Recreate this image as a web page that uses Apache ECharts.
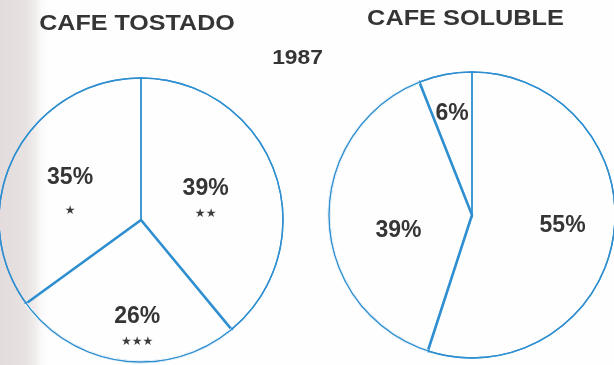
<!DOCTYPE html>
<html>
<head>
<meta charset="utf-8">
<script src="https://cdn.jsdelivr.net/npm/echarts@6/dist/echarts.min.js"></script>
<style>
  html, body { margin: 0; padding: 0; }
  body {
    width: 614px; height: 365px; overflow: hidden;
    background: linear-gradient(to right, #e3dbdc 0px, #e8e2e2 26px, #f1eded 35px, #fbfafa 42px, #fefefe 48px);
  }
  #chart { width: 614px; height: 365px; }
</style>
</head>
<body>
<div id="chart"></div>
<script>
// Market shares, 1987
const year = '1987';
const tostadoTitle = 'CAFE TOSTADO';
const tostadoShares = [39, 26, 35];
const tostadoMarks = ['★★', '★★★', '★'];
const solubleTitle = 'CAFE SOLUBLE';
const solubleShares = [55, 39, 6];

const LINE = '#2f8fd0';
const INK = '#353535';

// Per-slice label nudges and which slice carries the heavy dividing strokes
const tostadoOffsets = [[-5, 6], [5.5, 35], [-5, 11]];
const tostadoStarGap = [24, 24, 40];
const tostadoHeavy = 1;
const solubleOffsets = [[17, -0.5], [1, 13.5], [-6, -28]];
const solubleHeavy = 1;

function pieLayers(center, r, shares, heavy, labelFor) {
  const base = {
    type: 'pie', center: center, startAngle: 90, clockwise: true,
    silent: true, animation: false, avoidLabelOverlap: false,
    emphasis: { disabled: true }, labelLine: { show: false }
  };
  return [
    // slices with dividing strokes
    Object.assign({}, base, {
      radius: [0, r], z: 2,
      data: shares.map((v, i) => ({
        value: v,
        itemStyle: {
          color: 'transparent', borderColor: LINE,
          borderWidth: i === heavy ? 2.6 : 1.4, borderJoin: 'miter'
        },
        label: labelFor(v, i)
      }))
    }),
    // mask the heavy slice's rim so the outline stays thin
    Object.assign({}, base, {
      radius: [r - 1.5, r + 1.6], z: 3,
      label: { show: false },
      data: shares.map((v, i) => ({
        value: v,
        itemStyle: { color: i === heavy ? '#fefefe' : 'transparent', borderWidth: 0 }
      }))
    }),
    // outer circle
    Object.assign({}, base, {
      radius: [0, r], z: 4,
      label: { show: false },
      data: [{ value: 1, itemStyle: { color: 'transparent', borderColor: LINE, borderWidth: 1.4 } }]
    })
  ];
}

const tostado = pieLayers([141, 220], 142, tostadoShares, tostadoHeavy, (v, i) => ({
  show: true, position: 'inside', offset: tostadoOffsets[i],
  formatter: '{p|' + v + '%}\n{s|' + tostadoMarks[i] + '}',
  rich: {
    p: { fontFamily: 'Liberation Sans', fontWeight: 'bold', fontSize: 23, color: INK, lineHeight: 26, align: 'center' },
    s: { fontFamily: 'DejaVu Sans', fontSize: 12, color: '#3c3c3c', lineHeight: tostadoStarGap[i], align: 'center' }
  }
}));

const soluble = pieLayers([472, 215], 143, solubleShares, solubleHeavy, (v, i) => ({
  show: true, position: 'inside', offset: solubleOffsets[i],
  formatter: v + '%',
  fontFamily: 'Liberation Sans', fontWeight: 'bold', fontSize: 23, color: INK
}));

function heading(text, x, y, size, sx) {
  return {
    type: 'text', x: x, y: y, scaleX: sx, z: 10, silent: true,
    style: {
      text: text, fill: INK, align: 'center', verticalAlign: 'middle',
      font: 'bold ' + size + 'px "Liberation Sans", Arial, sans-serif'
    }
  };
}

const chart = echarts.init(document.getElementById('chart'), null, { renderer: 'canvas' });
chart.setOption({
  backgroundColor: 'transparent',
  animation: false,
  graphic: [
    heading(tostadoTitle, 137, 24, 22, 1.14),
    heading(solubleTitle, 465.5, 19, 22, 1.15),
    heading(year, 297.5, 58, 20, 1.14)
  ],
  series: tostado.concat(soluble)
});
</script>
</body>
</html>
